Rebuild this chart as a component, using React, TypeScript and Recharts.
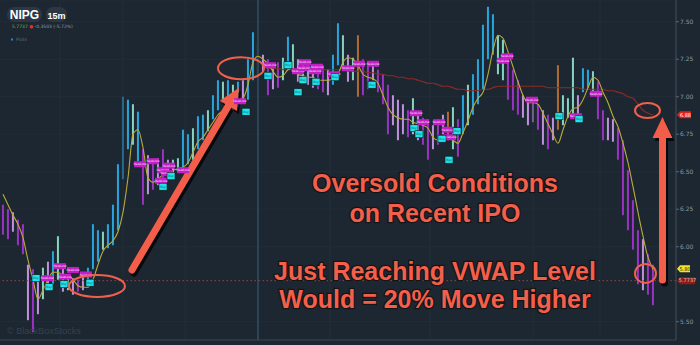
import React from 'react';
import {
  ComposedChart,
  Bar,
  Line,
  Scatter,
  XAxis,
  YAxis,
  CartesianGrid,
  ReferenceLine,
  ReferenceDot,
} from 'recharts';

// 15m bars, high / low per bar
const highs = [
  6.28, 6.25, 6.23, 6.18, 6.15, 5.88, 5.85, 5.81, 5.86, 5.9,
  5.97, 6.07, 5.86, 5.81, 5.79, 5.78, 5.81, 5.86, 6.15, 6.11,
  6.1, 6.15, 6.28, 6.55, 7.0, 6.98, 6.95, 6.9, 6.65, 6.61,
  6.58, 6.59, 6.65, 6.58, 6.58, 6.59, 6.78, 6.75, 6.79, 6.87,
  6.88, 6.91, 7.01, 7.11, 7.1, 7.11, 7.08, 7.1, 7.11, 7.25,
  7.43, 7.35, 7.28, 7.25, 7.21, 7.23, 7.26, 7.4, 7.35, 7.25,
  7.23, 7.21, 7.2, 7.19, 7.21, 7.18, 7.28, 7.49, 7.41, 7.28,
  7.26, 7.41, 7.25, 7.21, 7.23, 7.18, 7.15, 7.08, 7.01, 6.98,
  6.95, 6.91, 6.99, 6.88, 6.86, 6.85, 6.81, 6.85, 6.88, 6.9,
  6.93, 6.85, 7.01, 7.08, 7.15, 7.25, 7.48, 7.6, 7.55, 7.41,
  7.38, 7.28, 7.18, 7.11, 7.01, 6.98, 6.97, 6.95, 6.91, 6.88,
  6.86, 7.21, 7.01, 6.99, 7.26, 7.01, 7.19, 7.18, 7.17, 7.1,
  6.91, 6.86, 6.85, 6.79, 6.71, 6.51, 6.31, 6.11, 6.05, 5.95, 5.88,
];

const lows = [
  6.08, 6.05, 6.1, 6.01, 5.95, 5.51, 5.43, 5.55, 5.65, 5.71,
  5.75, 5.78, 5.7, 5.71, 5.68, 5.7, 5.71, 5.73, 5.85, 5.9,
  5.98, 5.99, 6.01, 6.11, 6.45, 6.65, 6.68, 6.57, 6.28, 6.35,
  6.38, 6.41, 6.38, 6.45, 6.46, 6.5, 6.53, 6.55, 6.58, 6.65,
  6.71, 6.77, 6.85, 6.91, 6.98, 6.95, 6.91, 6.93, 6.98, 6.98,
  7.11, 7.15, 7.17, 7.01, 7.05, 7.06, 7.11, 7.18, 7.17, 7.1,
  7.11, 7.08, 7.06, 7.05, 7.03, 7.01, 7.08, 7.21, 7.18, 7.1,
  7.11, 7.0, 7.01, 7.05, 7.11, 7.03, 6.95, 6.75, 6.81, 6.71,
  6.75, 6.73, 6.75, 6.71, 6.68, 6.58, 6.65, 6.68, 6.75, 6.71,
  6.65, 6.6, 6.75, 6.81, 6.88, 6.95, 7.05, 7.25, 7.28, 7.15,
  7.11, 6.98, 6.91, 6.88, 6.86, 6.81, 6.83, 6.78, 6.68, 6.65,
  6.71, 6.78, 6.81, 6.86, 6.88, 6.85, 7.03, 7.06, 7.03, 6.85,
  6.71, 6.71, 6.7, 6.58, 6.21, 6.11, 5.98, 5.75, 5.71, 5.68, 5.61,
];

// bar tone: u = up, t = up (light), d = down, p = down (light), o = neutral
const tones = (
  'ddpddpdptp' + 'utptpdpuuu' + 'tuuuuutudp' + 'dpdpttuutu' + 'utuututupu' +
  'utpdpdtutp' + 'tppddpuutp' + 'toddpdddpp' + 'pdtpddpdpo' + 'tdutuuuuut' +
  'tdddpppdpd' + 'potttpuutd' + 'dppdddddpdd'
).split('');

const movingAvg = [
  6.35, 6.28, 6.21, 6.15, 6.06, 5.91, 5.78, 5.65, 5.71, 5.78,
  5.83, 5.83, 5.81, 5.81, 5.78, 5.74, 5.73, 5.73, 5.78, 5.88,
  5.97, 6.01, 6.04, 6.1, 6.23, 6.46, 6.75, 6.78, 6.66, 6.46,
  6.43, 6.45, 6.48, 6.49, 6.51, 6.52, 6.53, 6.56, 6.63, 6.7,
  6.73, 6.78, 6.83, 6.88, 6.91, 6.96, 6.99, 6.98, 6.99, 7.08,
  7.23, 7.27, 7.25, 7.22, 7.17, 7.13, 7.14, 7.18, 7.19, 7.15,
  7.14, 7.13, 7.13, 7.11, 7.11, 7.11, 7.12, 7.15, 7.23, 7.26,
  7.25, 7.21, 7.15, 7.13, 7.12, 7.09, 7.01, 6.93, 6.88, 6.86,
  6.85, 6.85, 6.83, 6.82, 6.81, 6.79, 6.73, 6.71, 6.73, 6.73,
  6.71, 6.69, 6.76, 6.84, 6.93, 6.99, 7.03, 7.15, 7.31, 7.41,
  7.39, 7.3, 7.2, 7.1, 7.01, 6.96, 6.96, 6.95, 6.89, 6.82,
  6.75, 6.69, 6.78, 6.87, 6.92, 6.93, 6.98, 7.06, 7.13, 7.11,
  7.03, 6.96, 6.87, 6.8, 6.69, 6.56, 6.4, 6.23, 6.07, 5.93, 5.85,
];

const vwapStart = 53;
const vwap = [
  7.19, 7.19, 7.19, 7.18, 7.18, 7.18, 7.18, 7.18, 7.18, 7.18,
  7.18, 7.18, 7.18, 7.18, 7.18, 7.18, 7.17, 7.17, 7.17, 7.17,
  7.16, 7.16, 7.15, 7.15, 7.14, 7.14, 7.13, 7.13, 7.12, 7.12,
  7.11, 7.1, 7.09, 7.09, 7.08, 7.07, 7.07, 7.06, 7.05, 7.05,
  7.04, 7.04, 7.04, 7.05, 7.05, 7.06, 7.07, 7.07, 7.07, 7.07,
  7.07, 7.07, 7.07, 7.07, 7.07, 7.07, 7.06, 7.06, 7.06, 7.06,
  7.06, 7.06, 7.06, 7.05, 7.05, 7.05, 7.05, 7.05, 7.04, 7.04,
  7.03, 7.02, 7.0, 6.99, 6.95, 6.91, 6.89, 6.88,
];

// signal flags: [bar, price]
const sellFlags = [
  [8.8, 5.79], [11.4, 5.87], [12.4, 5.8], [14, 5.845], [16.6, 5.815],
  [27.4, 6.55], [30, 6.57], [31.6, 6.44], [32, 6.51], [32.8, 6.49], [33.2, 6.54], [36, 6.51],
  [47.4, 6.97], [53.4, 7.21], [59, 7.17], [60.2, 7.19], [60.4, 7.23], [62.4, 7.17], [62.8, 7.2],
  [66.2, 7.15], [69, 7.19], [71.2, 7.22], [74, 7.22], [82.6, 6.89], [84, 6.83], [87.2, 6.83],
  [89, 6.78], [89.4, 6.73], [100, 7.24], [100.8, 7.27], [105.8, 6.98], [114.6, 6.87], [118.6, 7.02],
];
const buyFlags = [
  [6.6, 5.79], [9.2, 5.73], [12.2, 5.75], [17.4, 5.76], [32, 6.4], [33.6, 6.47],
  [48.6, 6.9], [53, 7.14], [57, 7.21], [59, 7.03], [60, 7.11], [62.6, 7.1], [66.4, 7.13],
  [73.8, 7.08], [82.2, 6.79], [83.2, 6.75], [87.8, 6.72], [89.2, 6.58], [90.8, 6.77],
  [111.2, 6.87], [115.2, 6.85],
];

const priceTicks = [5.5, 6.0, 6.25, 6.5, 6.75, 7.0, 7.25, 7.5];
const lastPrice = 5.7737;
const lastAvg = 5.8;
const gridBars = [11.4, 24, 36.4, 65.4, 85.4, 106, 119.4];
const sessionBar = 51;

const toneColor: Record<string, string> = {
  u: '#26a6dc',
  t: '#86d3bf',
  d: '#9a32c4',
  p: '#bf90dc',
  o: '#b06c30',
};

const bars = highs.map((h, i) => ({
  i,
  range: [lows[i], h],
  tone: tones[i],
  ma: movingAvg[i],
  vwap: i >= vwapStart ? vwap[i - vwapStart] : null,
}));

const sellData = sellFlags.map(([i, p]) => ({ i, p }));
const buyData = buyFlags.map(([i, p]) => ({ i, p }));

// draw each bar as a thin stick centred on its slot
const Stick = (props: any) => {
  const { x, y, width, height, payload } = props;
  if (height == null || isNaN(y)) return null;
  const cx = x + width / 2;
  return (
    <rect
      x={cx - 1}
      y={Math.min(y, y + height)}
      width={2}
      height={Math.max(1, Math.abs(height))}
      fill={toneColor[payload.tone]}
    />
  );
};

const SellFlag = (props: any) => (
  <g>
    <rect x={props.cx - 6} y={props.cy - 3} width={12} height={6} fill='#c21fc6' />
    <text x={props.cx} y={props.cy + 1.2} fontSize={3.2} fill='#f3d9f5' textAnchor='middle' fontFamily='DejaVu Sans'>
      NewLow
    </text>
  </g>
);

const BuyFlag = (props: any) => (
  <g>
    <rect x={props.cx - 4} y={props.cy - 3.5} width={8} height={7} fill='#1fe4ea' stroke='#0c1a20' strokeWidth={0.6} />
    <text x={props.cx} y={props.cy + 1.1} fontSize={3} fill='#0b5b63' textAnchor='middle' fontFamily='DejaVu Sans'>
      Buy
    </text>
  </g>
);

const arrowShape = (props: any) => {
  const { x1, y1, x2, y2 } = props;
  const dx = x2 - x1;
  const dy = y2 - y1;
  const len = Math.sqrt(dx * dx + dy * dy);
  const ux = dx / len;
  const uy = dy / len;
  const head = 21;
  const half = 10;
  const bx = x2 - ux * head;
  const by = y2 - uy * head;
  const pts = `${x2},${y2} ${bx - uy * half},${by + ux * half} ${bx + uy * half},${by - ux * half}`;
  const draw = (ox: number, oy: number, color: string, op: number) => (
    <g transform={`translate(${ox},${oy})`} opacity={op}>
      <line x1={x1} y1={y1} x2={bx + ux * 2} y2={by + uy * 2} stroke={color} strokeWidth={7} strokeLinecap='round' />
      <polygon points={pts} fill={color} />
    </g>
  );
  return (
    <g>
      {draw(2, 3, '#000', 0.75)}
      {draw(0, 0, '#f35e4b', 1)}
    </g>
  );
};

const ring = (rx: number, ry: number) => (props: any) => (
  <ellipse cx={props.cx} cy={props.cy} rx={rx} ry={ry} fill='none' stroke='#f1604c' strokeWidth={2} />
);

const tag = (text: string, bg: string, fg: string, w: number, dy: number) => (props: any) => {
  const { viewBox } = props;
  const x0 = viewBox.x + viewBox.width + 1;
  const y = viewBox.y + dy;
  return (
    <g>
      <polygon
        points={`${x0},${y} ${x0 + 3},${y - 3.5} ${x0 + w},${y - 3.5} ${x0 + w},${y + 3.5} ${x0 + 3},${y + 3.5}`}
        fill={bg}
      />
      <text x={x0 + 3 + (w - 3) / 2} y={y + 1.8} fontSize={5} fill={fg} textAnchor='middle' fontFamily='DejaVu Sans'>
        {text}
      </text>
    </g>
  );
};

const bigText = {
  fill: '#f45f4b',
  stroke: '#151515',
  strokeWidth: 2.5,
  paintOrder: 'stroke',
  fontFamily: '"Liberation Sans", Arial, sans-serif',
  fontWeight: 700,
  fontSize: 25,
  textAnchor: 'middle',
} as const;

export default function App() {
  return (
    <div style={{ position: 'absolute', left: 0, top: 0, width: 700, height: 345, background: '#1d2731' }}>
      <ComposedChart width={700} height={345} data={bars} margin={{ top: 0, right: 0, bottom: 0, left: 0 }}>
        <CartesianGrid stroke='#222d38' vertical={false} />
        <XAxis
          type='number'
          dataKey='i'
          domain={[-0.6, 134.6]}
          allowDataOverflow
          tick={false}
          tickLine={false}
          height={5}
          axisLine={{ stroke: '#3a4550' }}
        />
        <YAxis
          orientation='right'
          width={24}
          domain={[5.378, 7.645]}
          allowDataOverflow
          ticks={priceTicks}
          tickFormatter={(v: number) => v.toFixed(2)}
          tick={{ fill: '#8d97a1', fontSize: 6, fontFamily: 'DejaVu Sans' }}
          tickLine={{ stroke: '#5a6570' }}
          tickSize={3}
          tickMargin={1}
          axisLine={{ stroke: '#46515c' }}
        />
        {gridBars.map((g) => (
          <ReferenceLine key={g} x={g} stroke='#242f3a' strokeWidth={1} />
        ))}
        <ReferenceLine x={sessionBar} stroke='#2c4458' strokeWidth={2} />
        <ReferenceLine
          y={lastPrice}
          stroke='#9c4038'
          strokeDasharray='1.5 2.5'
          label={tag('5.7737', '#8e1c15', '#e8c0b8', 18, 0)}
        />
        <ReferenceLine y={lastAvg} stroke='none' label={tag('5.80', '#f2e51f', '#222', 13, -8)} />
        <ReferenceLine
          y={vwap[vwap.length - 1]}
          stroke='none'
          label={tag(vwap[vwap.length - 1].toFixed(2), '#e3231b', '#fff', 14, 0)}
        />
        <Bar dataKey='range' barSize={2} shape={Stick} isAnimationActive={false} />
        <Line
          type='monotone'
          dataKey='vwap'
          stroke='#8c2a26'
          strokeWidth={1.2}
          dot={false}
          activeDot={false}
          isAnimationActive={false}
        />
        <Line
          type='monotone'
          dataKey='ma'
          stroke='#bcaa3a'
          strokeWidth={1.1}
          dot={false}
          activeDot={false}
          isAnimationActive={false}
        />
        <Scatter data={sellData} dataKey='p' shape={SellFlag} isAnimationActive={false} />
        <Scatter data={buyData} dataKey='p' shape={BuyFlag} isAnimationActive={false} />
        <ReferenceDot x={18.8} y={5.738} shape={ring(28, 11)} />
        <ReferenceDot x={47.6} y={7.19} shape={ring(23, 11)} />
        <ReferenceDot x={128.9} y={6.908} shape={ring(12.5, 7.5)} />
        <ReferenceDot x={128.5} y={5.822} shape={ring(10.5, 9.5)} />
        <ReferenceLine
          segment={[{ x: 25.8, y: 5.845 }, { x: 47.2, y: 7.06 }]}
          ifOverflow='visible'
          shape={arrowShape}
        />
        <ReferenceLine
          segment={[{ x: 131.9, y: 5.778 }, { x: 131.9, y: 6.865 }]}
          ifOverflow='visible'
          shape={arrowShape}
        />
      </ComposedChart>
      <svg width={700} height={345} style={{ position: 'absolute', left: 0, top: 0, pointerEvents: 'none' }}>
        <rect x={7} y={7} width={35} height={15} rx={7} fill='#2c3743' />
        <text x={24.5} y={19} fontSize={12} fontWeight={700} fill='#fff' textAnchor='middle' fontFamily='"Liberation Sans", Arial'>
          NIPG
        </text>
        <rect x={46} y={7} width={21} height={15} rx={7} fill='#2c3743' />
        <text x={56.5} y={18.5} fontSize={9} fontWeight={700} fill='#fff' textAnchor='middle' fontFamily='"Liberation Sans", Arial'>
          15m
        </text>
        <text x={12} y={27.5} fontSize={4.5} fontFamily='DejaVu Sans' fill='#8fa0aa'>
          <tspan fill='#78b443'>5.7737</tspan>
          <tspan fill='#e0302a'> ●</tspan> -0.3503 (-5.72%)
        </text>
        <rect x={11} y={38.5} width={2} height={2} fill='#2f7fe0' />
        <text x={16} y={41} fontSize={4.5} fontFamily='DejaVu Sans' fill='#5d6a76'>
          Plots
        </text>
        <text x={7} y={334} fontSize={9} fontFamily='"Liberation Sans", Arial' fill='#36414c'>
          © BlackBoxStocks
        </text>
        <text x={435} y={192} {...bigText}>Oversold Conditions</text>
        <text x={435} y={222} {...bigText}>on Recent IPO</text>
        <text x={435} y={280} {...bigText}>Just Reaching VWAP Level</text>
        <text x={435} y={308} {...bigText}>Would = 20% Move Higher</text>
      </svg>
    </div>
  );
}
